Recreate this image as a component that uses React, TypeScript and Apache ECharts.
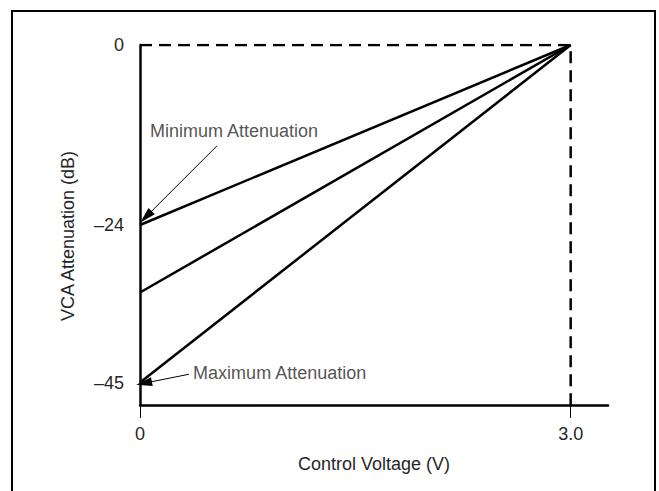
import React, { useEffect, useRef } from "react";
import * as echarts from "echarts";

const xTickValues = [0, 3];
const xTickLabels = ["0", "3.0"];
const yTickValues = [0, -24, -45];
const yTickLabels = ["0", "\u201324", "\u201345"];
const xRange = [0, 3.26];
const yRange = [-48, 0];

const curveStartVoltage = 0;
const curveEndVoltage = 3;
const curveStartDb = [-24, -33, -45];
const curveEndDb = 0;

const boundaryX = [0, 3, 3];
const boundaryY = [0, 0, -48];

const noteTexts = ["Minimum Attenuation", "Maximum Attenuation"];
const noteX = [0.07, 0.37];
const noteY = [-11.5, -43.7];
const arrowFromX = [0.536, 0.341];
const arrowFromY = [-13.45, -43.9];
const arrowToX = [0.042, 0.028];
const arrowToY = [-22.9, -45.1];

export default function App() {
  const ref = useRef<HTMLDivElement>(null);
  useEffect(() => {
    if (!ref.current) return;
    const chart = echarts.init(ref.current, null, { renderer: "svg" });
    const font = "'Liberation Sans', Arial, Helvetica, sans-serif";
    const textColor = "#262626";
    const curves = curveStartDb.map((db, i) => ({
      type: "line",
      name: "curve" + i,
      data: [
        [curveStartVoltage, db],
        [curveEndVoltage, curveEndDb],
      ],
      symbol: "none",
      lineStyle: { color: "#000", width: 2.5 },
      z: 3,
    }));
    chart.setOption({
      animation: false,
      backgroundColor: "#fff",
      textStyle: { fontFamily: font },
      grid: { left: 140, right: 51, top: 45, bottom: 86 },
      xAxis: {
        type: "value",
        min: xRange[0],
        max: xRange[1],
        name: "Control Voltage (V)",
        nameLocation: "middle",
        nameGap: 50,
        nameTextStyle: { fontSize: 18, color: textColor, fontFamily: font },
        axisLine: { show: true, onZero: false, lineStyle: { color: "#000", width: 2.5 } },
        axisTick: {
          show: true,
          customValues: xTickValues,
          length: 13,
          inside: false,
          lineStyle: { color: "#000", width: 1 },
        },
        axisLabel: {
          customValues: xTickValues,
          formatter: (v: number) => xTickLabels[xTickValues.indexOf(v)] ?? "",
          margin: 20,
          fontSize: 18,
          color: textColor,
          fontFamily: font,
        },
        splitLine: { show: false },
      },
      yAxis: {
        type: "value",
        min: yRange[0],
        max: yRange[1],
        name: "VCA Attenuation (dB)",
        nameLocation: "middle",
        nameGap: 63,
        nameTextStyle: {
          fontSize: 18,
          color: textColor,
          fontFamily: font,
          padding: [0, 22, 0, 0],
        },
        axisLine: { show: true, onZero: false, lineStyle: { color: "#000", width: 2.5 } },
        axisTick: { show: false },
        axisLabel: {
          customValues: yTickValues,
          formatter: (v: number) => yTickLabels[yTickValues.indexOf(v)] ?? "",
          margin: 16,
          fontSize: 18,
          color: textColor,
          fontFamily: font,
        },
        splitLine: { show: false },
      },
      graphic: [
        {
          type: "rect",
          shape: { x: 12, y: 11, width: 643, height: 500 },
          style: { fill: "none", stroke: "#000", lineWidth: 2 },
          silent: true,
        },
      ],
      series: [
        {
          type: "line",
          name: "boundary",
          data: boundaryX.map((x, i) => [x, boundaryY[i]]),
          symbol: "none",
          lineStyle: { color: "#000", width: 2.5, type: [12, 7] },
          z: 2,
        },
        ...curves,
        {
          type: "scatter",
          name: "notes",
          data: noteTexts.map((t, i) => ({ value: [noteX[i], noteY[i]], name: t })),
          symbolSize: 0,
          label: {
            show: true,
            position: "right",
            distance: 0,
            formatter: (p: any) => p.name,
            fontSize: 18,
            color: textColor,
            fontFamily: font,
          },
          markLine: {
            silent: true,
            symbol: ["none", "triangle"],
            symbolSize: [9, 16],
            label: { show: false },
            lineStyle: { color: "#000", width: 1, type: "solid" },
            data: arrowFromX.map((x, i) => [
              { coord: [x, arrowFromY[i]] },
              { coord: [arrowToX[i], arrowToY[i]] },
            ]),
          },
          z: 4,
        },
      ],
    });
    return () => chart.dispose();
  }, []);
  return (
    <div
      ref={ref}
      style={{ position: "fixed", left: 0, top: 0, width: 659, height: 491 }}
    />
  );
}
